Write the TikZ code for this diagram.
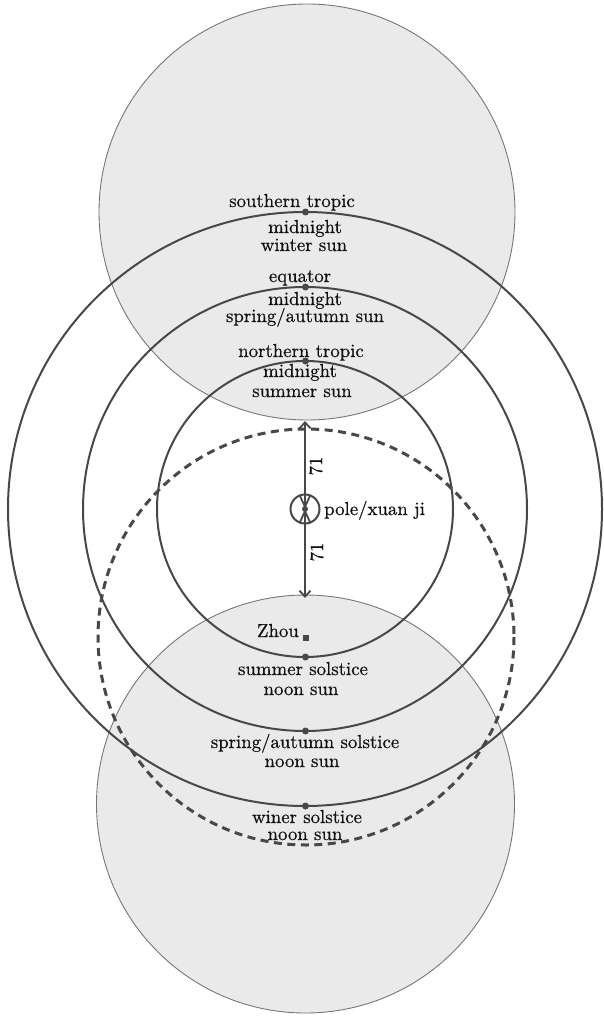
\documentclass[tikz,border=0pt]{standalone}
\usepackage{fontspec}
\newfontfamily\lmten{lmroman10-regular}[Extension=.otf, FakeBold=0.6]
\usetikzlibrary{arrows.meta}
\definecolor{ink}{HTML}{484848}
\definecolor{shade}{HTML}{EAEAEA}
\definecolor{rim}{HTML}{777777}
\definecolor{txt}{HTML}{111111}
\begin{document}
\begin{tikzpicture}[x=1pt,y=-1pt,
  disc/.style={fill=shade, draw=rim, line width=0.9pt},
  orbit/.style={draw=ink, line width=2pt},
  horizon/.style={draw=ink, line width=3pt, dash pattern=on 8pt off 5.5pt},
  dot/.style={circle, fill=ink, inner sep=0pt, minimum size=7pt},
  sq/.style={rectangle, fill=ink, inner sep=0pt, minimum size=6pt},
  polering/.style={circle, draw=ink, line width=2pt, inner sep=0pt, minimum size=29pt},
  measure/.style={draw=ink, line width=1.8pt,
    {Straight Barb[length=12pt,width=11pt]}-{Straight Barb[length=6pt,width=11pt]}},
  lbl/.style={font=\lmten\fontsize{18.8}{20}\selectfont, text=txt, inner sep=0pt, anchor=base},
  num/.style={font=\lmten\fontsize{18.8}{20}\selectfont, text=txt, inner sep=0pt, rotate=90, anchor=center}]
\useasboundingbox (0,0) rectangle (603,1016);
\fill[white] (0,0) rectangle (603,1016);
% shaded discs
\draw[disc] (307,212) circle[radius=208];
\draw[disc] (305.5,804) circle[radius=209];
% tropics and equator
\draw[orbit] (305,509) circle[radius=148];
\draw[orbit] (305,509) circle[radius=222];
\draw[orbit] (305,509) circle[radius=297];
% horizon of Zhou
\draw[horizon] (306,637) circle[radius=208];
% dots on circles
\node[dot] (dS) at (305.5,212) {};
\node[dot] (dE) at (305.5,287) {};
\node[dot] (dN) at (305.5,361) {};
\node[dot] (dSS) at (305.5,657) {};
\node[dot] (dSA) at (305.5,731) {};
\node[dot] (dW) at (305.5,806) {};
% pole
\node[polering] (pole) at (305,509) {};
\node[dot, minimum size=6pt] (pc) at (305,509) {};
\coordinate (atop) at (305,421);
\coordinate (abot) at (305,598);
\draw[measure] (pc.center) -- (atop);
\draw[measure] (pc.center) -- (abot);
\node[num] (n71a) at (316,466) {71};
\node[num] (n71b) at (317,552) {71};
\node[lbl, anchor=base west] (lpole) at (324,515) {pole/xuan ji};
% Zhou
\node[sq] (zhou) at (306,638) {};
\node[lbl, anchor=base east] (lzhou) at (299,637) {Zhou};
% upper labels
\node[lbl] (t1) at (292,207) {southern tropic};
\node[lbl] (t2) at (305,233) {midnight};
\node[lbl] (t3) at (304,251) {winter sun};
\node[lbl] (t4) at (300,282) {equator};
\node[lbl] (t5) at (305,305) {midnight};
\node[lbl] (t6) at (305,322) {spring/autumn sun};
\node[lbl] (t7) at (301,357) {northern tropic};
\node[lbl] (t8) at (300,377) {midnight};
\node[lbl] (t9) at (302,397) {summer sun};
% lower labels
\node[lbl] (b1) at (303,675) {summer solstice};
\node[lbl] (b2) at (301,695) {noon sun};
\node[lbl] (b3) at (305,748) {spring/autumn solstice};
\node[lbl] (b4) at (302,767) {noon sun};
\node[lbl] (b5) at (307,823) {winer solstice};
\node[lbl] (b6) at (305,840) {noon sun};
\end{tikzpicture}
\end{document}
